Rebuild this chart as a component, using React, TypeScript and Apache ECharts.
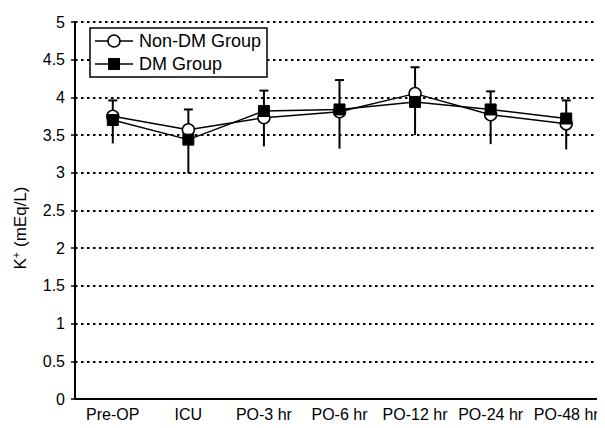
import React, { useEffect, useRef } from "react";
import * as echarts from "echarts";

const categories = ["Pre-OP", "ICU", "PO-3 hr", "PO-6 hr", "PO-12 hr", "PO-24 hr", "PO-48 hr"];
const nonDM = [3.75, 3.57, 3.73, 3.81, 4.05, 3.77, 3.65];
const dm = [3.70, 3.44, 3.82, 3.84, 3.94, 3.84, 3.72];
const errHigh = [3.96, 3.84, 4.09, 4.23, 4.40, 4.08, 3.96];
const errLow = [3.39, 2.99, 3.35, 3.32, 3.50, 3.38, 3.31];
const yTicks = [0, 0.5, 1, 1.5, 2, 2.5, 3, 3.5, 4, 4.5, 5];
const legendNames = ["Non-DM Group", "DM Group"];

const FONT = "Liberation Sans, Arial, sans-serif";

export default function App() {
  const ref = useRef<HTMLDivElement>(null);
  useEffect(() => {
    if (!ref.current) return;
    const chart = echarts.init(ref.current, null, { renderer: "svg" });
    const errData = categories.map((_, i) => [i, errLow[i], errHigh[i]]);
    chart.setOption({
      animation: false,
      backgroundColor: "#fff",
      grid: { left: 75, right: 1, top: 22, bottom: 29 },
      graphic: [
        {
          type: "rect",
          z: 10,
          shape: { x: 90, y: 28, width: 177, height: 49 },
          style: { fill: "#fff", stroke: "#000", lineWidth: 1.5 },
        },
        {
          type: "line",
          z: 11,
          shape: { x1: 95, y1: 41, x2: 133, y2: 41 },
          style: { stroke: "#000", lineWidth: 1.5 },
        },
        {
          type: "circle",
          z: 12,
          shape: { cx: 114, cy: 41, r: 6 },
          style: { fill: "#fff", stroke: "#000", lineWidth: 1.5 },
        },
        {
          type: "text",
          z: 12,
          x: 139,
          y: 41,
          style: {
            text: legendNames[0],
            font: `18px ${FONT}`,
            fill: "#000",
            textVerticalAlign: "middle",
            verticalAlign: "middle",
          },
        },
        {
          type: "line",
          z: 11,
          shape: { x1: 95, y1: 64, x2: 133, y2: 64 },
          style: { stroke: "#000", lineWidth: 1.5 },
        },
        {
          type: "rect",
          z: 12,
          shape: { x: 108.5, y: 58.5, width: 11, height: 11 },
          style: { fill: "#000", stroke: "#000", lineWidth: 1 },
        },
        {
          type: "text",
          z: 12,
          x: 139,
          y: 64,
          style: {
            text: legendNames[1],
            font: `18px ${FONT}`,
            fill: "#000",
            textVerticalAlign: "middle",
            verticalAlign: "middle",
          },
        },
        {
          type: "text",
          z: 12,
          x: 20,
          y: 228,
          rotation: Math.PI / 2,
          style: {
            text: "{a|K}{b|+}{a| (mEq/L)}",
            align: "center",
            verticalAlign: "middle",
            rich: {
              a: { fontSize: 17, fontFamily: FONT, fill: "#000", color: "#000" },
              b: { fontSize: 11, fontFamily: FONT, fill: "#000", color: "#000", padding: [0, 0, 9, 0] },
            },
          },
        },
      ],
      xAxis: {
        type: "category",
        data: categories,
        boundaryGap: true,
        axisLine: { lineStyle: { color: "#000", width: 2 } },
        axisTick: { inside: true, length: 5, lineStyle: { color: "#000", width: 1.5 } },
        axisLabel: { color: "#000", fontSize: 16, fontFamily: FONT, margin: 7, interval: 0 },
        splitLine: { show: false },
      },
      yAxis: {
        type: "value",
        min: 0,
        max: 5,
        interval: 0.5,
        axisLine: { show: true, lineStyle: { color: "#000", width: 2 } },
        axisTick: { show: true, length: 4, lineStyle: { color: "#000", width: 1.5 } },
        axisLabel: {
          color: "#000",
          fontSize: 16,
          fontFamily: FONT,
          margin: 10,
          formatter: (v: number) => (yTicks.includes(v) ? String(v) : ""),
        },
        splitLine: {
          show: true,
          lineStyle: { color: "#000", width: 2, type: [2.5, 3.5] },
        },
      },
      series: [
        {
          type: "custom",
          name: "err",
          z: 1,
          data: errData,
          renderItem: (params: any, api: any) => {
            const i = api.value(0);
            const lo = api.coord([i, api.value(1)]);
            const hi = api.coord([i, api.value(2)]);
            const cw = 4.5;
            return {
              type: "group",
              children: [
                {
                  type: "line",
                  shape: { x1: lo[0], y1: lo[1], x2: hi[0], y2: hi[1] },
                  style: { stroke: "#000", lineWidth: 2 },
                },
                {
                  type: "line",
                  shape: { x1: hi[0] - cw, y1: hi[1], x2: hi[0] + cw, y2: hi[1] },
                  style: { stroke: "#000", lineWidth: 2 },
                },
              ],
            };
          },
        },
        {
          type: "line",
          name: legendNames[0],
          z: 3,
          data: nonDM,
          symbol: "circle",
          symbolSize: 12,
          lineStyle: { color: "#000", width: 1.5 },
          itemStyle: { color: "#fff", borderColor: "#000", borderWidth: 1.5 },
        },
        {
          type: "line",
          name: legendNames[1],
          z: 4,
          data: dm,
          symbol: "rect",
          symbolSize: 11,
          lineStyle: { color: "#000", width: 1.5 },
          itemStyle: { color: "#000", borderColor: "#000", borderWidth: 1 },
        },
      ],
    });
    return () => chart.dispose();
  }, []);
  return <div ref={ref} style={{ width: 605, height: 428, margin: -8 }} />;
}
